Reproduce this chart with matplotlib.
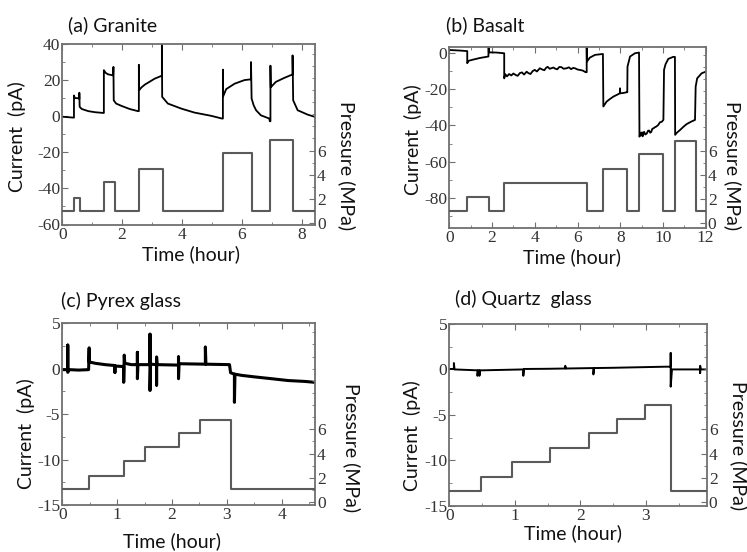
import matplotlib
matplotlib.use("Agg")
import matplotlib.pyplot as plt
from matplotlib.ticker import MultipleLocator

plt.rcParams["axes.unicode_minus"] = False
W, H = 747, 552

# ---------------- data ----------------
# (a) Granite
gr_t = [0, 0.39, 0.39, 0.42, 0.55, 0.57, 0.57, 0.58, 0.65, 0.87, 1.1, 1.37,
        1.39, 1.39, 1.45, 1.53, 1.70, 1.71, 1.72, 1.8, 1.98, 2.25, 2.53,
        2.56, 2.56, 2.57, 2.65, 2.76, 3.09, 3.31, 3.33, 3.33, 3.34, 3.53, 3.98, 4.42, 4.98, 5.34,
        5.37, 5.37, 5.38, 5.48, 5.76, 6.09, 6.29, 6.31, 6.31, 6.33, 6.40, 6.48, 6.64, 6.92, 6.94,
        6.96, 6.96, 6.97, 7.14, 7.42, 7.68, 7.70, 7.70, 7.72, 7.87, 8.2, 8.45]
gr_i = [-0.3, -0.8, 11.5, 10, 10, 9.5, 13, 5.2, 4, 2.8, 2.2, 1.8,
        1.8, 25.5, 24, 23.2, 22.6, 27.3, 8.8, 7, 5.7, 4, 2.8,
        2.8, 28.5, 14.4, 16, 17.5, 20.8, 22.3, 22.3, 40, 10.7, 7, 4.2, 2, 0.2, -1.3,
        -1.3, 25.8, 11, 15, 18, 20, 20.4, 20.4, 30, 9.8, 6, 3.3, 0.5, -1.3, -2.8,
        -2.8, 28, 16, 19, 21.2, 23, 23, 33.7, 8.8, 3.3, 0.9, -0.4]
gr_pt = [0, 0.39, 0.58, 1.39, 1.75, 2.57, 3.36, 5.36, 6.33, 6.96, 7.72, 8.45]
gr_pv = [1.0, 2.1, 1.0, 3.4, 1.0, 4.5, 1.0, 5.8, 1.0, 6.9, 1.0, 1.0]

# (b) Basalt
ba_t = [0, 0.5, 0.84, 0.84, 0.9, 1.12, 1.44, 1.83, 1.84, 1.85, 2.2, 2.57,
        2.57, 2.62, 2.7, 2.8, 2.9, 3.0, 3.1, 3.2, 3.3, 3.4, 3.5, 3.62, 3.7, 3.8, 3.9,
        4.0, 4.1, 4.24, 4.35, 4.45, 4.52, 4.6, 4.7, 4.87, 4.95, 5.05, 5.15,
        5.25, 5.35, 5.49, 5.6, 5.7, 5.8, 5.9, 6.0, 6.1, 6.25, 6.38, 6.43,
        6.43, 6.44, 6.58, 6.82, 7.19,
        7.21, 7.36, 7.5, 7.68, 7.85, 7.98, 7.99, 8.0, 8.15, 8.3, 8.33,
        8.34, 8.46, 8.69, 8.88,
        8.9, 8.95, 8.98, 9.02, 9.05, 9.09, 9.12, 9.17, 9.24, 9.3, 9.35, 9.4, 9.45,
        9.5, 9.55, 9.62, 9.7, 9.78, 9.86, 9.94, 10.02,
        10.05, 10.12, 10.25, 10.48, 10.56,
        10.57, 10.65, 10.8, 10.95, 11.1, 11.3, 11.5,
        11.53, 11.6, 11.81, 12.0]
ba_i = [1.8, 1.5, 1.2, -5.5, -4.2, -3.5, -2.6, -1.8, 3.7, 0.5, 0.4, 0,
        -13.9, -11.6, -12.8, -11.5, -12.3, -11.2, -12.0, -12.5, -11.0, -10.6, -11.8, -10.2, -11.0, -11.5, -9.9,
        -9.2, -10.1, -8.3, -9.0, -9.4, -8.2, -7.5, -8.6, -7.9, -8.5, -8.9, -7.6,
        -7.7, -8.6, -8.3, -7.8, -8.8, -8.1, -8.4, -9.0, -9.2, -9.6, -10.5, -10.5,
        3.5, -4.6, -2.4, -0.9, -0.4,
        -29.5, -26.8, -25.5, -24, -23.0, -22.2, -19.4, -22.2, -22.0, -21.6, -21.6,
        -7.4, -1.8, 0, 0.4,
        -46.2, -44.0, -45.5, -43.8, -46, -44.2, -43.5, -45.0, -44.5, -42.9, -42.8, -44.0, -43.6,
        -41.9, -41.6, -41.0, -40.5, -39.7, -38.2, -38.0, -36.9,
        -9.2, -6.1, -3.1, -2, -2,
        -45.2, -44.0, -42.5, -40.8, -39.3, -38.0, -36.9,
        -18.5, -13.9, -11.1, -10.2]
ba_pt = [0, 0.83, 1.84, 2.58, 6.44, 7.2, 8.34, 8.9, 10.02, 10.57, 11.53, 12.0]
ba_pv = [1.0, 2.1, 1.0, 3.3, 1.0, 4.45, 1.0, 5.7, 1.0, 6.8, 1.0, 1.0]

# (c) Pyrex glass
py_t = [0, 0.1, 0.1, 0.1, 0.12, 0.3, 0.48, 0.49, 0.49, 0.6, 0.78, 0.96, 0.96, 0.96, 1.08,
        1.12, 1.12, 1.13, 1.14, 1.26, 1.37, 1.37, 1.37, 1.38, 1.6, 1.6, 1.6, 1.61,
        1.72, 1.72, 1.72, 1.73, 2.12, 2.12, 2.12, 2.13, 2.61, 2.61, 2.62, 3.05,
        3.07, 3.14, 3.14, 3.15, 3.27, 3.51, 3.82, 4.12, 4.43, 4.61]
py_i = [-0.1, -0.1, 2.6, -0.4, -0.1, -0.15, -0.1, 2.3, 0.75, 0.6, 0.45, 0.35, -0.4, 0.3, 0.25,
        0.25, -1.5, 1.5, 0.6, 0.45, 0.45, 1.8, -1.1, 0.45, 0.45, 3.8, -2.4, 0.5,
        0.45, -1.8, 1.3, 0.45, 0.4, 1.3, -1.1, 0.55, 0.5, 2.4, 0.5, 0.45,
        -0.44, -0.6, -3.7, -0.6, -0.73, -0.9, -1.1, -1.3, -1.4, -1.5]
py_pt = [0, 0.49, 1.13, 1.51, 2.13, 2.51, 3.07, 4.61]
py_pv = [1.05, 2.15, 3.4, 4.5, 5.7, 6.8, 1.05, 1.05]

# (d) Quartz glass
qz_t = [0, 0.07, 0.07, 0.08, 0.43, 0.43, 0.44, 0.46, 0.46, 0.47, 0.5, 1.13, 1.13, 1.14,
        1.5, 1.77, 1.77, 1.78, 2.2, 2.2, 2.21, 2.5, 3.3, 3.38, 3.38, 3.38, 3.4,
        3.83, 3.83, 3.83, 3.84, 3.93]
qz_i = [0.05, 0.05, 0.7, 0.0, -0.1, -0.7, -0.1, -0.1, -0.7, -0.1, -0.1, 0.0, -0.7, 0.05,
        0.07, 0.1, 0.4, 0.1, 0.15, -0.55, 0.15, 0.18, 0.3, 0.3, 1.8, -1.9, 0.0,
        0.0, -0.4, 0.4, 0.0, 0.0]
qz_pt = [0, 0.49, 0.95, 1.53, 2.14, 2.56, 2.99, 3.38, 3.93]
qz_pv = [0.95, 2.05, 3.3, 4.45, 5.7, 6.85, 8.05, 0.95, 0.95]

titles = ["(a) Granite", "(b) Basalt", "(c) Pyrex glass", "(d) Quartz  glass"]
cur_label = "Current  (pA)"
pres_label = "Pressure (MPa)"
time_label = "Time (hour)"

# ---------------- layout (pixels) ----------------
panels = [
    dict(box=(62.3, 315, 44, 224.5), t=gr_t, i=gr_i, pt=gr_pt, pv=gr_pv,
         xlim=(0, 8.45), ylim=(-60, 40), yt=20, xt=2, plim=(-0.1, 14.8), lw=1.3,
         title=(68, 25), ylab=(17, 137), plab=(347, 166), tlab=(191, 254)),
    dict(box=(449.3, 705.7, 47.3, 227.5), t=ba_t, i=ba_i, pt=ba_pt, pv=ba_pv,
         xlim=(0, 12), ylim=(-96.5, 3.3), yt=20, xt=2, plim=(-0.4, 14.6), lw=1.3,
         title=(446, 25), ylab=(413, 140), plab=(733, 166), tlab=(572, 257)),
    dict(box=(62.3, 315, 323.3, 505), t=py_t, i=py_i, pt=py_pt, pv=py_pv,
         xlim=(0, 4.61), ylim=(-15, 5), yt=5, xt=1, plim=(-0.25, 14.75), lw=2.2,
         title=(61, 301), ylab=(26, 434), plab=(352, 448), tlab=(172, 541)),
    dict(box=(449.3, 706.7, 324, 505.7), t=qz_t, i=qz_i, pt=qz_pt, pv=qz_pv,
         xlim=(0, 3.93), ylim=(-15, 5), yt=5, xt=1, plim=(-0.3, 14.7), lw=1.4,
         title=(455, 299), ylab=(412, 436), plab=(739, 446), tlab=(573, 533)),
]

fig = plt.figure(figsize=(W / 100, H / 100), dpi=100)
fig.patch.set_facecolor("white")

SANS = ["Lato", "DejaVu Sans"]
SERIF = "Liberation Serif"
frame_c = "#707070"

for k, p in enumerate(panels):
    l, r, t_, b = p["box"]
    ax = fig.add_axes([l / W, 1 - b / H, (r - l) / W, (b - t_) / H])
    ax.plot(p["t"], p["i"], color="black", lw=p["lw"])
    ax.set_xlim(*p["xlim"])
    ax.set_ylim(*p["ylim"])
    ax.xaxis.set_major_locator(MultipleLocator(p["xt"]))
    ax.yaxis.set_major_locator(MultipleLocator(p["yt"]))
    ax.xaxis.set_minor_locator(MultipleLocator(p["xt"] / 2))
    ax.yaxis.set_minor_locator(MultipleLocator(p["yt"] / 2))
    ax.tick_params(which="both", direction="in", top=True, right=False,
                   color=frame_c, labelsize=12.5, pad=1.5)
    ax.tick_params(which="major", length=4)
    ax.tick_params(which="minor", length=2)
    for lab in ax.get_xticklabels() + ax.get_yticklabels():
        lab.set_fontfamily(SERIF)
        lab.set_color("#333333")
    for s in ax.spines.values():
        s.set_color(frame_c)
        s.set_linewidth(1.3)

    ax2 = ax.twinx()
    ax2.plot(p["pt"], p["pv"], drawstyle="steps-post", color="#5a5a5a", lw=1.5)
    ax2.set_ylim(*p["plim"])
    ax2.set_yticks([0, 2, 4, 6])
    ax2.yaxis.set_minor_locator(MultipleLocator(1))
    ax2.tick_params(which="both", direction="in", color=frame_c, labelsize=12.5, pad=1.5)
    ax2.tick_params(which="major", length=4)
    ax2.tick_params(which="minor", length=2)
    for lab in ax2.get_yticklabels():
        lab.set_fontfamily(SERIF)
        lab.set_color("#333333")
    for s in ax2.spines.values():
        s.set_visible(False)

    tx, ty = p["title"]
    fig.text(tx / W, 1 - ty / H, titles[k], family=SANS, fontsize=14,
             ha="left", va="center", color="#111111")
    yx, yy = p["ylab"]
    fig.text(yx / W, 1 - yy / H, cur_label, family=SANS, fontsize=14,
             rotation=90, ha="center", va="center", color="#111111")
    px_, py_ = p["plab"]
    fig.text(px_ / W, 1 - py_ / H, pres_label, family=SANS, fontsize=14,
             rotation=270, ha="center", va="center", color="#111111")
    lx, ly = p["tlab"]
    fig.text(lx / W, 1 - ly / H, time_label, family=SANS, fontsize=14,
             ha="center", va="center", color="#111111")

fig.savefig("out.png", dpi=100, facecolor="white")
